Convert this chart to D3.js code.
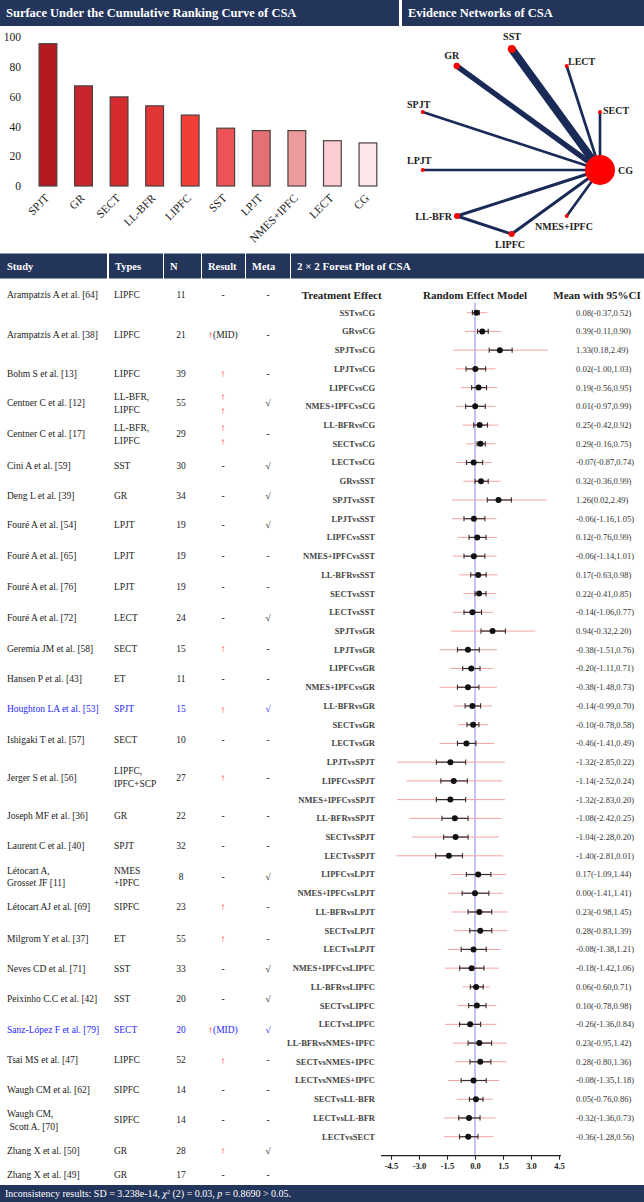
<!DOCTYPE html>
<html><head><meta charset="utf-8">
<script src="https://cdn.jsdelivr.net/npm/d3@7"></script>
<style>
body{margin:0;background:#fff}
svg{display:block;font-family:"Liberation Serif","Times New Roman","DejaVu Serif",serif}
</style>
</head><body>
<svg id="c" width="644" height="1202" font-family="Liberation Serif, Times New Roman, serif"></svg>
<script>
// ================= DATA =================
const sucraCategories = ["SPJT","GR","SECT","LL-BFR","LIPFC","SST","LPJT","NMES+IPFC","LECT","CG"];
const sucraValues = [95.5,67.2,59.8,53.8,47.6,38.8,37.2,37.2,30.4,28.9];
const sucraTicks = [0,20,40,60,80,100];

const netNodes = ["CG","SST","GR","LECT","SECT","SPJT","LPJT","LL-BFR","NMES+IPFC","LIPFC"];
const netNodeWeight = [225,16,10,4,4,4,4,9,4,9];
const netEdgeFrom = ["SST","GR","LECT","SECT","SPJT","LPJT","LL-BFR","NMES+IPFC","LIPFC","LL-BFR"];
const netEdgeTo   = ["CG","CG","CG","CG","CG","CG","CG","CG","CG","LIPFC"];
const netEdgeStudies = [3,2,1,1,1,1,1.1,1,1.1,1.1];

const studyNames = ["Arampatzis A et al. [64]","Arampatzis A et al. [38]","Bohm S et al. [13]","Centner C et al. [12]","Centner C et al. [17]","Cini A et al. [59]","Deng L et al. [39]","Fouré A et al. [54]","Fouré A et al. [65]","Fouré A et al. [76]","Fouré A et al. [72]","Geremia JM et al. [58]","Hansen P et al. [43]","Houghton LA et al. [53]","Ishigaki T et al. [57]","Jerger S et al. [56]","Joseph MF et al. [36]","Laurent C et al. [40]","Létocart A,|Grosset JF [11]","Létocart AJ et al. [69]","Milgrom Y et al. [37]","Neves CD et al. [71]","Peixinho C.C et al. [42]","Sanz-López F et al. [79]","Tsai MS et al. [47]","Waugh CM et al. [62]","Waugh CM,| Scott A. [70]","Zhang X et al. [50]","Zhang X et al. [49]"];
const studyTypes = ["LIPFC","LIPFC","LIPFC","LL-BFR,|LIPFC","LL-BFR,|LIPFC","SST","GR","LPJT","LPJT","LPJT","LECT","SECT","ET","SPJT","SECT","LIPFC,|IPFC+SCP","GR","SPJT","NMES|+IPFC","SIPFC","ET","SST","SST","SECT","LIPFC","SIPFC","SIPFC","GR","GR"];
const studyN = [11,21,39,55,29,30,34,19,19,19,24,15,11,15,10,27,22,32,8,23,55,33,20,20,52,14,14,28,17];
const studyResult = ["-","↑(MID)","↑","↑|↑","↑|↑","-","-","-","-","-","-","↑","-","↑","-","↑","-","-","-","↑","↑","-","-","↑(MID)","↑","-","-","↑","-"];
const studyMeta = ["-","-","-","√","-","√","√","√","-","-","√","-","-","√","-","-","-","-","√","-","-","√","√","√","-","-","-","√","-"];
const studyHighlight = [0,0,0,0,0,0,0,0,0,0,0,0,0,1,0,0,0,0,0,0,0,0,0,1,0,0,0,0,0];

const comparisons = ["SSTvsCG","GRvsCG","SPJTvsCG","LPJTvsCG","LIPFCvsCG","NMES+IPFCvsCG","LL-BFRvsCG","SECTvsCG","LECTvsCG","GRvsSST","SPJTvsSST","LPJTvsSST","LIPFCvsSST","NMES+IPFCvsSST","LL-BFRvsSST","SECTvsSST","LECTvsSST","SPJTvsGR","LPJTvsGR","LIPFCvsGR","NMES+IPFCvsGR","LL-BFRvsGR","SECTvsGR","LECTvsGR","LPJTvsSPJT","LIPFCvsSPJT","NMES+IPFCvsSPJT","LL-BFRvsSPJT","SECTvsSPJT","LECTvsSPJT","LIPFCvsLPJT","NMES+IPFCvsLPJT","LL-BFRvsLPJT","SECTvsLPJT","LECTvsLPJT","NMES+IPFCvsLIPFC","LL-BFRvsLIPFC","SECTvsLIPFC","LECTvsLIPFC","LL-BFRvsNMES+IPFC","SECTvsNMES+IPFC","LECTvsNMES+IPFC","SECTvsLL-BFR","LECTvsLL-BFR","LECTvsSECT"];
const meanVals = [0.08,0.39,1.33,0.02,0.19,0.01,0.25,0.29,-0.07,0.32,1.26,-0.06,0.12,-0.06,0.17,0.22,-0.14,0.94,-0.38,-0.20,-0.38,-0.14,-0.10,-0.46,-1.32,-1.14,-1.32,-1.08,-1.04,-1.40,0.17,0.00,0.23,0.28,-0.08,-0.18,0.06,0.10,-0.26,0.23,0.28,-0.08,0.05,-0.32,-0.36];
const ci95Lo = [-0.37,-0.11,0.18,-1.00,-0.56,-0.97,-0.42,-0.16,-0.87,-0.36,0.02,-1.16,-0.76,-1.14,-0.63,-0.41,-1.06,-0.32,-1.51,-1.11,-1.48,-0.99,-0.78,-1.41,-2.85,-2.52,-2.83,-2.42,-2.28,-2.81,-1.09,-1.41,-0.98,-0.83,-1.38,-1.42,-0.60,-0.78,-1.36,-0.95,-0.80,-1.35,-0.76,-1.36,-1.28];
const ci95Hi = [0.52,0.90,2.49,1.03,0.95,0.99,0.92,0.75,0.74,0.99,2.49,1.05,0.99,1.01,0.98,0.85,0.77,2.20,0.76,0.71,0.73,0.70,0.58,0.49,0.22,0.24,0.20,0.25,0.20,0.01,1.44,1.41,1.45,1.39,1.21,1.06,0.71,0.98,0.84,1.42,1.36,1.18,0.86,0.73,0.56];
// inner (dark) interval and outer (pink) interval
const innerLo = [-0.14,0.14,0.76,-0.48,-0.18,-0.50,-0.07,0.11,-0.46,0.00,0.66,-0.59,-0.32,-0.59,-0.23,0.00,-0.59,0.32,-0.94,-0.66,-0.94,-0.53,-0.43,-0.94,-2.07,-1.83,-2.07,-1.77,-1.68,-2.11,-0.46,-0.69,-0.37,-0.28,-0.74,-0.82,-0.25,-0.34,-0.83,-0.37,-0.27,-0.74,-0.30,-0.87,-0.83];
const innerHi = [0.23,0.71,1.99,0.57,0.62,0.55,0.67,0.55,0.41,0.71,1.95,0.53,0.59,0.53,0.60,0.59,0.35,1.63,0.23,0.27,0.21,0.30,0.21,0.05,-0.50,-0.41,-0.50,-0.37,-0.37,-0.67,0.85,0.74,0.90,0.90,0.60,0.48,0.44,0.59,0.30,0.89,0.85,0.60,0.43,0.27,0.16];
const outerLo = [-0.44,-0.53,-1.15,-1.01,-0.76,-1.00,-0.66,-0.46,-0.98,-0.62,-1.24,-1.24,-0.92,-1.20,-0.83,-0.62,-1.20,-1.28,-1.90,-1.33,-1.90,-1.12,-0.92,-1.90,-4.17,-3.67,-4.17,-3.51,-3.37,-4.22,-1.28,-1.45,-1.24,-1.13,-1.47,-1.61,-0.66,-0.92,-1.60,-1.19,-1.06,-1.44,-0.98,-1.65,-1.65];
const outerHi = [0.66,1.38,3.90,1.10,1.20,1.10,1.24,1.10,0.89,1.38,3.83,1.15,1.19,1.15,1.21,1.13,0.98,3.23,1.19,0.98,1.17,0.92,0.71,1.03,1.60,1.45,1.60,1.42,1.29,1.51,1.67,1.49,1.74,1.74,1.37,1.28,0.80,1.13,1.13,1.70,1.68,1.31,0.96,1.10,0.98];
const forestTicks = [-4.5,-3.0,-1.5,0.0,1.5,3.0,4.5];

// ================= LAYOUT / STYLE =================
const NAVY = "#24355b";
const SERIF = "Liberation Serif, Times New Roman, serif";
const svg = d3.select("#c");
const fmt2 = v => (v < 0 ? "-" : "") + Math.abs(v).toFixed(2);
const fmt1 = v => (v < 0 ? "-" : "") + Math.abs(v).toFixed(1);

function headerBar(x, y, w, h, label, tx, fs) {
  svg.append("rect").attr("x", x).attr("y", y).attr("width", w).attr("height", h).attr("fill", NAVY);
  if (label) svg.append("text").attr("x", x + (tx||6)).attr("y", y + h/2).attr("dy","0.35em")
    .attr("fill","#fff").attr("font-weight","bold").attr("font-size", fs).text(label);
}

// ---------- SUCRA bar chart ----------
const bx = d3.scaleBand().domain(sucraCategories).range([21.3, 394.6]).padding(0.5);
const by = d3.scaleLinear().domain([0,100]).range([186, 37]);
const barColors = ["#b3191e","#c8262c","#d52b2e","#e23536","#f23f36","#ec5256","#e27075","#ec9a9c","#fdccd3","#fde6ea"];
const gBar = svg.append("g");
gBar.selectAll("rect.bar").data(sucraCategories).join("rect")
  .attr("x", d => bx(d)).attr("width", bx.bandwidth())
  .attr("y", (d,i) => by(sucraValues[i])).attr("height", (d,i) => by(0) - by(sucraValues[i]))
  .attr("fill", (d,i) => barColors[i]).attr("stroke", "#4a4040").attr("stroke-width", 1.2);
const yAx = gBar.append("g").attr("transform","translate(21,0)")
  .call(d3.axisLeft(by).tickValues(sucraTicks).tickSize(0).tickPadding(0));
yAx.attr("font-family", SERIF);
yAx.select(".domain").remove();
yAx.selectAll("text").attr("font-size", 11.5).attr("fill","#222");
gBar.selectAll("text.xl").data(sucraCategories).join("text")
  .attr("transform", d => `translate(${bx(d)+bx.bandwidth()/2 - 1},${196}) rotate(-45)`)
  .attr("text-anchor","end").attr("dy","0.35em").attr("font-size", 11.5).attr("fill","#222").text(d => d);

// ---------- Network ----------
const nodePos = {"CG":[600,170],"SST":[511.7,49],"GR":[456.7,66],"LECT":[566.7,66],"SECT":[600,112],"SPJT":[422.7,112],"LPJT":[422.7,170],"LL-BFR":[457,216],"NMES+IPFC":[566.7,216],"LIPFC":[511.7,234]};
const labelPos = {"CG":[618,174,"start"],"SST":[512,40,"middle"],"GR":[451.7,59,"middle"],"LECT":[568,64.5,"start"],"SECT":[603,114,"start"],"SPJT":[407,108,"start"],"LPJT":[407,164,"start"],"LL-BFR":[452,220,"end"],"NMES+IPFC":[535,230,"start"],"LIPFC":[510,248,"middle"]};
const ew = d3.scaleLinear().domain([0,3]).range([0,8]);
const nr = d3.scaleSqrt().domain([0,225]).range([0,15]);
const gNet = svg.append("g");
netEdgeFrom.forEach((f,i) => {
  const a = nodePos[f], b = nodePos[netEdgeTo[i]];
  gNet.append("line").attr("x1",a[0]).attr("y1",a[1]).attr("x2",b[0]).attr("y2",b[1])
    .attr("stroke","#1a2a57").attr("stroke-width", Math.max(2, ew(netEdgeStudies[i])));
});
netNodes.forEach((n,i) => {
  gNet.append("circle").attr("cx",nodePos[n][0]).attr("cy",nodePos[n][1]).attr("r", Math.max(1.8, nr(netNodeWeight[i]))).attr("fill","#fe0000");
  const l = labelPos[n];
  gNet.append("text").attr("x",l[0]).attr("y",l[1]).attr("text-anchor",l[2]).attr("font-weight","bold")
    .attr("font-size",10).attr("fill","#222").text(n);
});

// headers (drawn after bar labels so overflow gets covered)
headerBar(0, 0, 399, 26, "Surface Under the Cumulative Ranking Curve of CSA", 6, 12.5);
headerBar(402, 0, 242, 26, "Evidence Networks of CSA", 6, 12.5);

// ---------- Table ----------
const colX = [0,108,163,201,245,290];
const colW = [107,54,37,43,44,354];
const heads = ["Study","Types","N","Result","Meta","2 × 2 Forest Plot of CSA"];
heads.forEach((h,i) => headerBar(colX[i] + (i?1:0), 253.5, colW[i], 25, h, i===0?7:6, i===5?11:10.5));

const rowGap = [40,39,29.3,31,31.3,30,29.4,31,31,30.6,31,30,30.7,30.3,38,38.7,30,30.7,30,31.6,30,30,31,30.7,30,30,30.7,24.3];
const rowY = [294.7]; rowGap.forEach(g => rowY.push(rowY[rowY.length-1] + g));
const LH = 12.7;
function multi(g, x, y, str, anchor, color, fs) {
  const parts = str.split("|");
  parts.forEach((p,k) => {
    const yy = y + (k - (parts.length-1)/2) * LH;
    g.append("text").attr("x",x).attr("y",yy).attr("dy","0.35em").attr("text-anchor",anchor)
      .attr("font-size",fs||9.5).attr("fill",color).style("white-space","pre").text(p);
  });
}
const RED = "#ff1010";
const gT = svg.append("g");
studyNames.forEach((s,i) => {
  const y = rowY[i];
  const col = studyHighlight[i] ? "#1f1fff" : "#222";
  multi(gT, 7, y, s, "start", col);
  multi(gT, 114, y, studyTypes[i], "start", col);
  multi(gT, 181, y, String(studyN[i]), "middle", col);
  const r = studyResult[i];
  if (r === "-") multi(gT, 223, y, "-", "middle", col);
  else if (r.indexOf("(MID)") >= 0) {
    const t = gT.append("text").attr("x",223).attr("y",y).attr("dy","0.35em").attr("text-anchor","middle").attr("font-size",9.5);
    t.append("tspan").attr("fill",RED).text("↑");
    t.append("tspan").attr("fill",col).text("(MID)");
  } else {
    const parts = r.split("|");
    parts.forEach((p,k) => {
      gT.append("text").attr("x",223).attr("y", y + (k-(parts.length-1)/2)*14).attr("dy","0.35em")
        .attr("text-anchor","middle").attr("font-size",10).attr("fill",RED).text(p);
    });
  }
  multi(gT, 268, y, studyMeta[i], "middle", col, 9.5);
});

// ---------- Forest plot ----------
const fx = d3.scaleLinear().domain([-4.5,4.5]).range([391, 559]);
const fy = d3.scalePoint().domain(comparisons).range([312.7, 1136.7]);
const gF = svg.append("g");
[["Treatment Effect",341.7],["Random Effect Model",475],["Mean with 95%CI",597]].forEach(h => {
  gF.append("text").attr("x",h[1]).attr("y",294.7).attr("dy","0.35em").attr("text-anchor","middle")
    .attr("font-weight","bold").attr("font-size",11).attr("fill","#222").text(h[0]);
});
gF.append("line").attr("x1",fx(0)).attr("x2",fx(0)).attr("y1",303).attr("y2",1155.7).attr("stroke","#8a8ae6").attr("stroke-width",1);
comparisons.forEach((c,i) => {
  const y = fy(c);
  gF.append("line").attr("x1",fx(outerLo[i])).attr("x2",fx(outerHi[i])).attr("y1",y).attr("y2",y)
    .attr("stroke","#f5a3a3").attr("stroke-width",1);
  gF.append("line").attr("x1",fx(innerLo[i])).attr("x2",fx(innerHi[i])).attr("y1",y).attr("y2",y)
    .attr("stroke","#3b2b2b").attr("stroke-width",1.2);
  [innerLo[i], innerHi[i]].forEach(v => gF.append("line").attr("x1",fx(v)).attr("x2",fx(v)).attr("y1",y-2.6).attr("y2",y+2.6)
    .attr("stroke","#3b2b2b").attr("stroke-width",1.1));
  gF.append("circle").attr("cx",fx(meanVals[i])).attr("cy",y).attr("r",3).attr("fill","#111");
  gF.append("text").attr("x",375).attr("y",y).attr("dy","0.35em").attr("text-anchor","end")
    .attr("font-size",8.5).attr("font-weight","bold").attr("fill","#444").text(c);
  gF.append("text").attr("x",576).attr("y",y).attr("dy","0.35em").attr("text-anchor","start")
    .attr("font-size",8.5).attr("fill","#333").text(`${fmt2(meanVals[i])}(${fmt2(ci95Lo[i])},${fmt2(ci95Hi[i])})`);
});
const fAx = gF.append("g").attr("transform","translate(0,1155.7)")
  .call(d3.axisBottom(fx).tickValues(forestTicks).tickFormat(fmt1).tickSize(4).tickPadding(3));
fAx.attr("font-family", SERIF);
fAx.select(".domain").remove();
fAx.append("line").attr("x1",381).attr("x2",561).attr("stroke","#222").attr("stroke-width",1.2);
fAx.selectAll(".tick line").attr("stroke","#222").attr("stroke-width",1.1);
fAx.selectAll("text").attr("font-size",8.5).attr("font-weight","bold").attr("fill","#222");

// ---------- Footer ----------
svg.append("rect").attr("x",0).attr("y",1185).attr("width",644).attr("height",17).attr("fill",NAVY);
const ft = svg.append("text").attr("x",5).attr("y",1193.5).attr("dy","0.35em").attr("fill","#fff").attr("font-size",10);
ft.append("tspan").text("Inconsistency results: SD = 3.238e-14, ");
ft.append("tspan").attr("font-style","italic").text("χ");
ft.append("tspan").attr("font-size",6).attr("dy",-3.5).text("2");
ft.append("tspan").attr("dy",3.5).text(" (2) = 0.03, ");
ft.append("tspan").attr("font-style","italic").text("p");
ft.append("tspan").text(" = 0.8690 > 0.05.");
</script>
</body></html>
